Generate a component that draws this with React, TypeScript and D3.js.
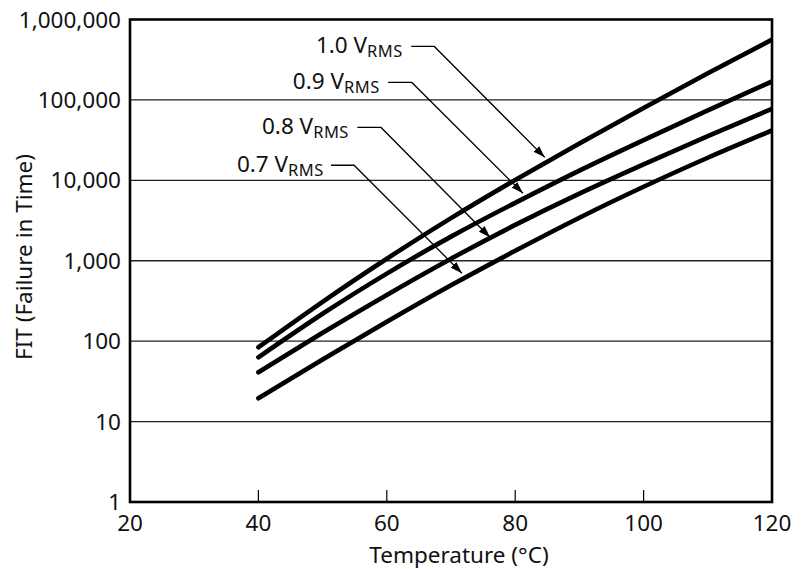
import React from "react";
import * as d3 from "d3";

const temps = [40, 50, 60, 70, 80, 90, 100, 110, 120];
const fit10 = [84, 309, 1060, 3390, 10100, 28800, 79400, 214000, 562000];
const fit09 = [63, 219, 692, 1995, 5250, 13200, 31600, 74100, 170000];
const fit08 = [41, 127, 376, 1060, 2790, 6840, 15800, 35500, 77600];
const fit07 = [19.5, 59, 174, 495, 1330, 3430, 8320, 19100, 41700];
const seriesList = [fit10, fit09, fit08, fit07];

const xTicks = [20, 40, 60, 80, 100, 120];
const yTicks = [1, 10, 100, 1000, 10000, 100000, 1000000];
const yTickLabels = ["1", "10", "100", "1,000", "10,000", "100,000", "1,000,000"];

const annoLabels = ["1.0", "0.9", "0.8", "0.7"];
const annoLineFit = [462000, 165000, 45500, 15400];
const annoTextEndT = [62.5, 58.9, 54.1, 50.2];
const annoElbowStartT = [63.8, 60.2, 55.4, 51.3];
const annoElbowEndT = [67.4, 63.9, 59.1, 54.9];
const annoTipT = [84.6, 81.2, 76.1, 71.7];
const annoTipFit = [19300, 6900, 1950, 700];

const W = 805;
const H = 569;
const M = { left: 130, right: 772, top: 19.5, bottom: 502 };
const FONT = "'Noto Sans', 'Open Sans', sans-serif";
const FS = 22.5;

export default function App() {
  const x = d3.scaleLinear().domain([20, 120]).range([M.left, M.right]);
  const y = d3.scaleLog().domain([1, 1000000]).range([M.bottom, M.top]);
  const line = d3
    .line<[number, number]>()
    .x((d) => x(d[0]))
    .y((d) => y(d[1]))
    .curve(d3.curveNatural);

  return (
    <svg
      width={W}
      height={H}
      style={{ position: "absolute", left: 0, top: 0, background: "#fff" }}
      fontFamily={FONT}
    >
      <defs>
        <clipPath id="plotclip">
          <rect x={M.left} y={M.top} width={M.right - M.left} height={M.bottom - M.top} />
        </clipPath>
        <marker
          id="arrow"
          viewBox="0 0 12 8"
          refX={12}
          refY={4}
          markerWidth={12}
          markerHeight={8}
          markerUnits="userSpaceOnUse"
          orient="auto"
        >
          <path d="M0,0 L12,4 L0,8 Z" fill="#000" />
        </marker>
      </defs>
      <rect x={0} y={0} width={W} height={H} fill="#fff" />
      {/* gridlines */}
      {yTicks.slice(1, -1).map((t) => (
        <line
          key={"g" + t}
          x1={M.left}
          x2={M.right}
          y1={y(t)}
          y2={y(t)}
          stroke="#222"
          strokeWidth={1.3}
        />
      ))}
      {/* bottom ticks */}
      {xTicks.slice(1, -1).map((t) => (
        <line
          key={"t" + t}
          x1={x(t)}
          x2={x(t)}
          y1={M.bottom}
          y2={M.bottom - 12}
          stroke="#000"
          strokeWidth={1.2}
        />
      ))}
      {/* curves */}
      <g clipPath="url(#plotclip)">
        {seriesList.map((s, i) => (
          <path
            key={"s" + i}
            d={line(temps.map((t, j) => [t, s[j]] as [number, number])) || ""}
            fill="none"
            stroke="#000"
            strokeWidth={4.6}
            strokeLinecap="round"
          />
        ))}
      </g>
      {/* frame */}
      <rect
        x={M.left}
        y={M.top}
        width={M.right - M.left}
        height={M.bottom - M.top}
        fill="none"
        stroke="#000"
        strokeWidth={2.6}
      />
      {/* annotations */}
      {annoLabels.map((lab, i) => {
        const ly = y(annoLineFit[i]);
        const pts: [number, number][] = [
          [x(annoElbowStartT[i]), ly],
          [x(annoElbowEndT[i]), ly],
          [x(annoTipT[i]), y(annoTipFit[i])],
        ];
        return (
          <g key={"a" + i}>
            <path
              d={d3.line()(pts) || ""}
              fill="none"
              stroke="#000"
              strokeWidth={1.3}
              markerEnd="url(#arrow)"
            />
            <text
              x={x(annoTextEndT[i])}
              y={ly + 6.5}
              textAnchor="end"
              fontSize={FS}
              fill="#111"
            >
              {lab + " V"}
              <tspan dy={4} fontSize={16.5} letterSpacing={0.5}>
                RMS
              </tspan>
            </text>
          </g>
        );
      })}
      {/* y tick labels */}
      {yTicks.map((t, i) => (
        <text
          key={"yl" + t}
          x={M.left - 9}
          y={y(t) + 8}
          textAnchor="end"
          fontSize={FS}
          fill="#111"
        >
          {yTickLabels[i]}
        </text>
      ))}
      {/* x tick labels */}
      {xTicks.map((t) => (
        <text
          key={"xl" + t}
          x={x(t)}
          y={531}
          textAnchor="middle"
          fontSize={FS}
          fill="#111"
        >
          {t}
        </text>
      ))}
      <text x={459} y={563} textAnchor="middle" fontSize={FS} fill="#111">
        Temperature (°C)
      </text>
      <text
        transform={`translate(32,257) rotate(-90)`}
        textAnchor="middle"
        fontSize={FS}
        fill="#111"
      >
        FIT (Failure in Time)
      </text>
    </svg>
  );
}
